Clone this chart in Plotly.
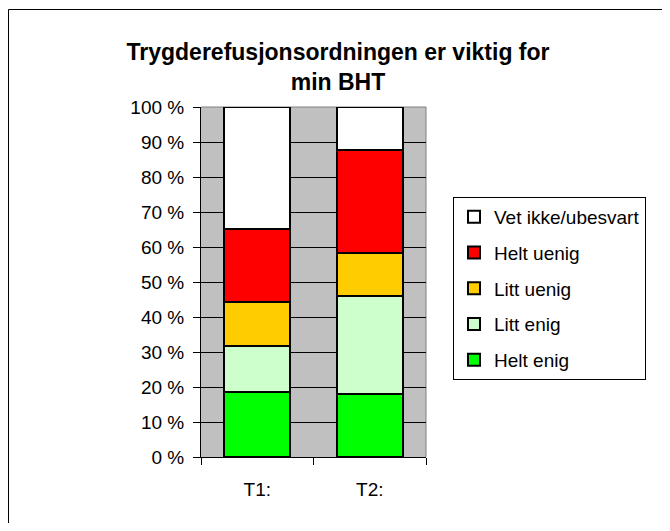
import plotly.graph_objects as go

categories = ["T1:", "T2:"]
series_names = ["Helt enig", "Litt enig", "Litt uenig", "Helt uenig", "Vet ikke/ubesvart"]
helt_enig = [18.6, 18.0]
litt_enig = [13.1, 28.0]
litt_uenig = [12.7, 12.3]
helt_uenig = [20.7, 29.4]
vet_ikke = [34.9, 12.3]
series_values = [helt_enig, litt_enig, litt_uenig, helt_uenig, vet_ikke]
colors = ["#00ff00", "#ccffcc", "#ffcc00", "#ff0000", "#ffffff"]
y_ticks = list(range(0, 101, 10))
y_tick_labels = [f"{v} %" for v in y_ticks]

FONT = "Liberation Sans, Arial, sans-serif"

fig = go.Figure()
n = len(series_names)
for i, (name, vals, col) in enumerate(zip(series_names, series_values, colors)):
    fig.add_trace(go.Bar(
        x=categories, y=vals, name=name, legendgroup=name,
        legendrank=n - i,
        marker=dict(color=col, line=dict(color="black", width=2)),
    ))

# page has an 8px body margin; figure coordinates = page coordinates - 8
W, H = 654, 515
L, R, T, B = 193, 418, 99, 449

def px(x):
    return (x - L) / (R - L)

def py(y):
    return (B - y) / (B - T)

fig.update_layout(
    width=W, height=H,
    margin=dict(l=L, r=W - R, t=T, b=H - B),
    barmode="stack",
    bargap=0.41,
    paper_bgcolor="white",
    plot_bgcolor="#c0c0c0",
    font=dict(family=FONT, color="black"),
    title=dict(
        text="<b>Trygderefusjonsordningen er viktig for<br>min BHT</b>",
        x=330 / W, xanchor="center",
        y=1 - 52 / H, yanchor="top",
        font=dict(size=23, family=FONT),
    ),
    showlegend=True,
    legend=dict(
        x=px(445), y=py(189), xanchor="left", yanchor="top",
        traceorder="grouped",
        tracegroupgap=8,
        bgcolor="white", bordercolor="black", borderwidth=1,
        font=dict(size=19, family=FONT),
        itemclick=False,
    ),
    xaxis=dict(
        showline=True, linecolor="black", linewidth=1,
        ticks="outside", ticklen=7, tickcolor="black",
        tickson="boundaries",
        tickfont=dict(size=19, family=FONT),
        ticklabelstandoff=15,
        showgrid=False,
    ),
    yaxis=dict(
        range=[0, 100],
        tickvals=y_ticks, ticktext=y_tick_labels,
        showline=True, linecolor="black", linewidth=1,
        ticks="outside", ticklen=7, tickcolor="black",
        tickfont=dict(size=19, family=FONT),
        ticklabelstandoff=5,
        showgrid=True, gridcolor="black", gridwidth=1,
        zeroline=False,
    ),
    shapes=[
        dict(type="line", xref="paper", yref="paper", x0=0, x1=1, y0=1, y1=1,
             line=dict(color="#808080", width=1), layer="between"),
        dict(type="line", xref="paper", yref="paper", x0=1, x1=1, y0=0, y1=1,
             line=dict(color="#808080", width=1), layer="between"),
        # outer chart border (top and left edges; right/bottom lie outside the view)
        dict(type="line", xref="paper", yref="paper",
             x0=px(0.5), x1=px(W), y0=py(1.5), y1=py(1.5),
             line=dict(color="black", width=1), layer="below"),
        dict(type="line", xref="paper", yref="paper",
             x0=px(0.5), x1=px(0.5), y0=py(1.5), y1=py(H),
             line=dict(color="black", width=1), layer="below"),
    ],
)

fig.write_html("out.html")
